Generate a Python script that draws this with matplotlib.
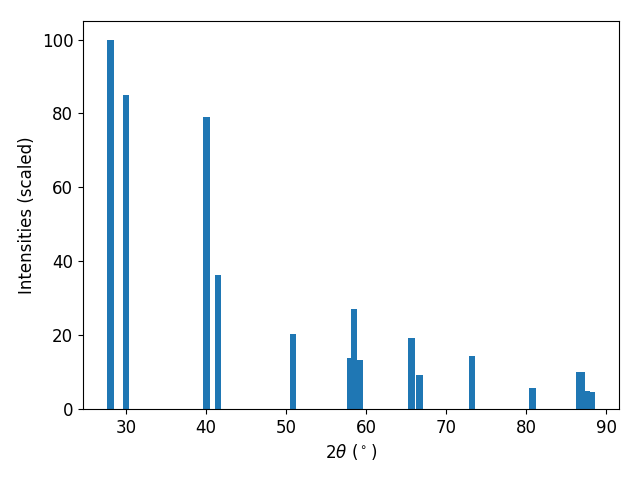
import matplotlib
matplotlib.use("Agg")
import matplotlib.pyplot as plt

# peak positions (2theta, degrees) and scaled intensities
two_theta = [28.06, 29.95, 40.06, 41.5, 50.85, 57.97, 58.45, 59.15,
             65.66, 66.66, 73.25, 80.78, 86.6, 86.95, 88.2, 87.6]
intensity = [100, 85.1, 79.1, 36.3, 20.3, 13.8, 27.1, 13.3,
             19.2, 9.2, 14.4, 5.7, 9.9, 9.9, 4.6, 4.9]

plt.rcParams['font.size'] = 12

fig, ax = plt.subplots(figsize=(6.4, 4.8), dpi=100)
ax.bar(two_theta, intensity)
ax.set_xlabel(r'$2\theta$ ($^\circ$)')
ax.set_ylabel('Intensities (scaled)')
fig.subplots_adjust(left=0.1297, right=0.9677, top=0.956, bottom=0.148)
fig.savefig('out.png')
